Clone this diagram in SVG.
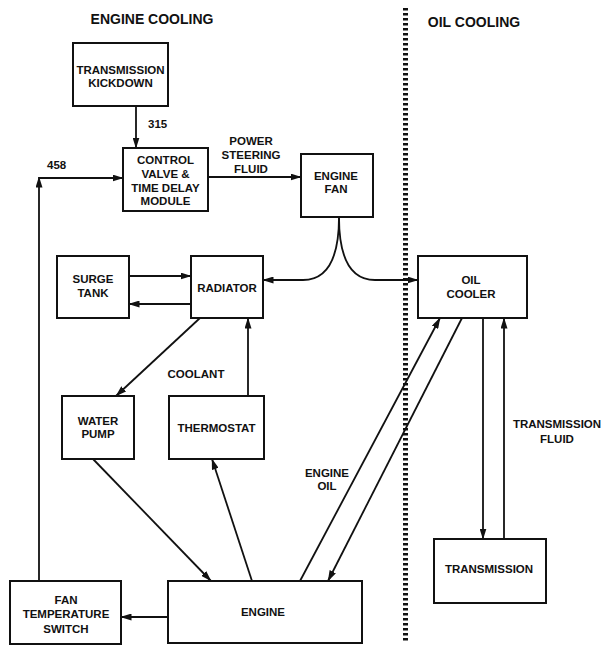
<svg xmlns="http://www.w3.org/2000/svg" width="607" height="658" viewBox="0 0 607 658">
<defs>
<marker id="ah" markerWidth="11" markerHeight="7" refX="10.5" refY="3.5" orient="auto" markerUnits="userSpaceOnUse">
<path d="M0,0 L11,3.5 L0,7 z" fill="#111"/>
</marker>
<style>
.box{fill:#fff;stroke:#111;stroke-width:2}
.t{font-family:"Liberation Sans",Arial,sans-serif;font-weight:bold;font-size:11.5px;fill:#111;text-anchor:middle}
.h{font-family:"Liberation Sans",Arial,sans-serif;font-weight:bold;font-size:14px;fill:#111;text-anchor:middle}
.c{fill:none;stroke:#111;stroke-width:1.8}
.a{marker-end:url(#ah)}
</style>
</defs>
<rect width="607" height="658" fill="#fff"/>
<text class="h" x="152" y="24">ENGINE COOLING</text>
<text class="h" x="474" y="27">OIL COOLING</text>
<line x1="405.5" y1="8" x2="405.5" y2="641" stroke="#111" stroke-width="5" stroke-dasharray="2.5 2.5"/>
<g id="connectors">
<line class="c a" x1="136" y1="106" x2="136" y2="148"/>
<line class="c a" x1="208" y1="177" x2="301" y2="177"/>
<path class="c a" d="M339,217 C339,252 331,280 303,280 H263"/>
<path class="c a" d="M339,217 C339,252 347,280 375,280 H418"/>
<line class="c a" x1="129" y1="276" x2="191" y2="276"/>
<line class="c a" x1="191" y1="304" x2="129" y2="304"/>
<line class="c a" x1="200" y1="318" x2="116" y2="396"/>
<line class="c a" x1="248" y1="396" x2="248" y2="318"/>
<line class="c a" x1="93" y1="459" x2="211" y2="581"/>
<line class="c a" x1="252" y1="581" x2="212" y2="459"/>
<line class="c a" x1="168" y1="617" x2="121" y2="617"/>
<line class="c a" x1="39" y1="581" x2="39" y2="177"/>
<line class="c a" x1="39" y1="178" x2="123" y2="178"/>
<line class="c a" x1="300" y1="581" x2="440" y2="318"/>
<line class="c a" x1="462" y1="318" x2="328" y2="581"/>
<line class="c a" x1="483" y1="318" x2="483" y2="539"/>
<line class="c a" x1="504" y1="539" x2="504" y2="318"/>
</g>
<g id="labels">
<text class="t" x="148" y="128" style="text-anchor:start">315</text>
<text class="t" x="47" y="169" style="text-anchor:start">458</text>
<text class="t" x="251" y="145">POWER</text>
<text class="t" x="251" y="159">STEERING</text>
<text class="t" x="251" y="173">FLUID</text>
<text class="t" x="196" y="378">COOLANT</text>
<text class="t" x="327" y="477">ENGINE</text>
<text class="t" x="327" y="490">OIL</text>
<text class="t" x="557" y="428">TRANSMISSION</text>
<text class="t" x="557" y="443">FLUID</text>
</g>
<g id="kickdown"><rect class="box" x="73" y="43" width="95" height="63"/>
<text class="t" x="120.5" y="74">TRANSMISSION</text><text class="t" x="120.5" y="87">KICKDOWN</text></g>
<g id="control"><rect class="box" x="123" y="148" width="85" height="63"/>
<text class="t" x="165.5" y="164">CONTROL</text><text class="t" x="165.5" y="178">VALVE &amp;</text><text class="t" x="165.5" y="192">TIME DELAY</text><text class="t" x="165.5" y="205">MODULE</text></g>
<g id="enginefan"><rect class="box" x="301" y="154" width="72" height="63"/>
<text class="t" x="336" y="180">ENGINE</text><text class="t" x="336" y="193">FAN</text></g>
<g id="surge"><rect class="box" x="57" y="256" width="72" height="62"/>
<text class="t" x="93" y="283">SURGE</text><text class="t" x="93" y="297">TANK</text></g>
<g id="radiator"><rect class="box" x="191" y="256" width="72" height="62"/>
<text class="t" x="227" y="292">RADIATOR</text></g>
<g id="oilcooler"><rect class="box" x="418" y="256" width="109" height="62"/>
<text class="t" x="471" y="284">OIL</text><text class="t" x="471" y="298">COOLER</text></g>
<g id="waterpump"><rect class="box" x="62" y="396" width="72" height="63"/>
<text class="t" x="98" y="425">WATER</text><text class="t" x="98" y="438">PUMP</text></g>
<g id="thermostat"><rect class="box" x="169" y="396" width="95" height="63"/>
<text class="t" x="216.5" y="432">THERMOSTAT</text></g>
<g id="transmission"><rect class="box" x="434" y="539" width="112" height="64"/>
<text class="t" x="489" y="573">TRANSMISSION</text></g>
<g id="fanswitch"><rect class="box" x="10" y="581" width="111" height="63"/>
<text class="t" x="66" y="604">FAN</text><text class="t" x="66" y="618">TEMPERATURE</text><text class="t" x="66" y="633">SWITCH</text></g>
<g id="engine"><rect class="box" x="168" y="581" width="194" height="62"/>
<text class="t" x="263" y="616">ENGINE</text></g>
</svg>
